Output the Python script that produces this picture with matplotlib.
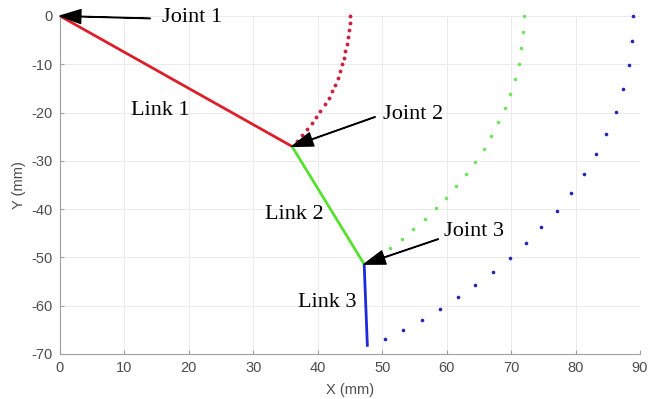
import matplotlib
matplotlib.use("Agg")
import matplotlib.pyplot as plt

# arm pose (mm)
joint_x = [0.0, 36.0, 47.2, 47.7]
joint_y = [0.0, -27.0, -51.4, -68.5]

# traced joint paths (mm)
red_x = [45.0, 44.97, 44.86, 44.7, 44.5, 44.3, 44.1, 43.8, 43.5, 43.1,
         42.6, 42.2, 41.7, 41.1, 40.4, 39.8, 39.1, 38.3, 37.6, 36.8]
red_y = [0.0, -1.4, -2.9, -4.3, -5.8, -7.2, -8.6, -10.0, -11.4, -12.8,
         -14.2, -15.6, -16.9, -18.3, -19.6, -20.85, -22.1, -23.3, -24.6, -25.8]

green_x = [71.95, 71.85, 71.6, 71.2, 70.6, 69.9, 69.0, 68.0, 66.9, 65.75,
           64.4, 63.0, 61.5, 59.95, 58.35, 56.6, 54.8, 53.0, 51.2]
green_y = [0.0, -3.3, -6.6, -9.9, -13.0, -16.2, -19.1, -22.0, -24.8, -27.6,
           -30.2, -32.7, -35.3, -37.6, -39.8, -42.1, -44.2, -46.2, -48.0]

blue_x = [88.95, 88.75, 88.25, 87.4, 86.2, 84.7, 83.1, 81.3, 79.25, 77.05,
          74.7, 72.3, 69.8, 67.15, 64.45, 61.7, 58.95, 56.15, 53.3, 50.5]
blue_y = [0.0, -5.2, -10.2, -15.1, -19.8, -24.4, -28.6, -32.7, -36.6, -40.3,
          -43.8, -47.1, -50.2, -53.1, -55.8, -58.3, -60.7, -62.9, -65.0, -66.8]

link_labels = ["Link 1", "Link 2", "Link 3"]
link_label_pos = [(11.0, -19.5), (31.8, -41.2), (36.9, -59.4)]
joint_labels = ["Joint 1", "Joint 2", "Joint 3"]
joint_label_pos = [(15.8, -0.4), (50.1, -20.5), (59.6, -44.7)]
arrow_tail = [(14.0, -0.5), (48.9, -20.9), (58.7, -46.2)]

link_colors = ["#dc1f2a", "#55e22f", "#1c2ad8"]
dot_colors = ["#c8243f", "#6fe45c", "#2424b8"]

plt.rcParams['font.family'] = 'Liberation Sans'
plt.rcParams['axes.unicode_minus'] = False
fig = plt.figure(figsize=(6.6, 3.99), dpi=100)
ax = fig.add_axes([0.0909, 0.1128, 0.8788, 0.8471])

ax.plot(red_x, red_y, 'o', ms=2.8, color=dot_colors[0], mec='none', clip_on=False)
ax.plot(green_x, green_y, 'o', ms=2.6, color=dot_colors[1], mec='none', clip_on=False)
ax.plot(blue_x, blue_y, 'o', ms=2.6, color=dot_colors[2], mec='none', clip_on=False)

for i in range(3):
    ax.plot(joint_x[i:i+2], joint_y[i:i+2], color=link_colors[i], lw=2.0,
            solid_capstyle='butt', clip_on=False)

for i in range(3):
    ax.text(link_label_pos[i][0], link_label_pos[i][1], link_labels[i],
            family='Liberation Serif', fontsize=16, va='center', ha='left')
    ax.text(joint_label_pos[i][0], joint_label_pos[i][1], joint_labels[i],
            family='Liberation Serif', fontsize=16, va='center', ha='left')
    ax.annotate('', xy=(joint_x[i], joint_y[i]), xytext=arrow_tail[i],
                arrowprops=dict(facecolor='black', edgecolor='black', width=0.4,
                                headwidth=10, headlength=15, shrink=0))

ax.set_xlim(0, 90)
ax.set_ylim(-70, 0)
ax.set_xticks(range(0, 91, 10))
ax.set_yticks(range(-70, 1, 10))
ax.grid(True, color='#ebebeb', lw=0.7)
ax.set_axisbelow(True)
for s in ['top', 'right']:
    ax.spines[s].set_visible(False)
for s in ['left', 'bottom']:
    ax.spines[s].set_color('#a0a0a0')
    ax.spines[s].set_linewidth(0.8)
ax.tick_params(direction='in', length=3, color='#a0a0a0', labelcolor='#4d4d4d',
               labelsize=10.5, pad=5)
ax.set_xlabel('X (mm)', fontsize=10.5, color='#4d4d4d', labelpad=6)
ax.set_ylabel('Y (mm)', fontsize=10.5, color='#4d4d4d', labelpad=4)

fig.savefig('out.png', dpi=100)
